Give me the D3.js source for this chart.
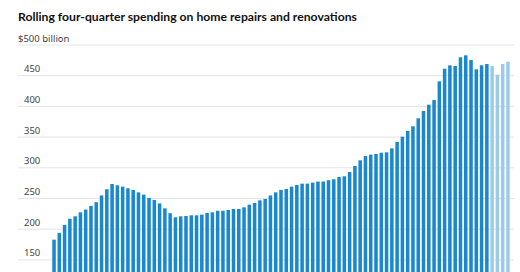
<!DOCTYPE html>
<html><head><meta charset="utf-8">
<script src="https://cdn.jsdelivr.net/npm/d3@7"></script>
<style>html,body{margin:0;padding:0;background:#fff;}svg{display:block;}</style>
</head><body>
<svg id="c" width="520" height="272"></svg>
<script>
const title = "Rolling four-quarter spending on home repairs and renovations";
const unitLabel = "billion";
const yTicks = [150, 200, 250, 300, 350, 400, 450, 500];
const values = [
 183, 194, 207, 217, 221, 227.5, 232, 238, 244, 255,
 265, 273.6, 271.5, 269.3, 266.6, 264, 260, 256.3, 251, 247.6,
 242, 234, 226, 219.4, 221, 221.5, 222.6, 222.6, 223.7, 226.4,
 227.5, 230, 230, 231.3, 233, 233, 235.6, 240, 242.7, 247,
 249.2, 255, 260, 264, 265.5, 269.3, 272, 274.2, 274.2, 275.9,
 277.6, 277.6, 279.8, 281.3, 285, 286.2, 293.2, 303, 312.2, 319.2,
 321.4, 322.5, 324.6, 325.2, 331.7, 342, 350.7, 360, 367.6, 380.6,
 392.5, 402.8, 410.4, 440.8, 461.4, 466.9, 465.8, 480, 483.2, 475.6,
 460.4, 467, 469, 465.8, 451.6, 469, 472.8
];
const projectedCount = 4;
const quarters = values.map((_, i) => "Q" + (i + 1));

const svg = d3.select("#c");
const x = d3.scaleBand().domain(quarters).range([52, 510]).paddingInner(0.33).paddingOuter(0.05);
const y = d3.scaleLinear().domain([0, 500]).range([352, 45]);

svg.append("text").attr("x", 18).attr("y", 21)
  .attr("font-family", "Lato, 'Noto Sans', sans-serif").attr("font-weight", 700)
  .attr("font-size", 12.2).attr("fill", "#111").text(title);

const g = svg.append("g");
g.selectAll("line.grid").data(yTicks).join("line")
  .attr("x1", 18).attr("x2", 514)
  .attr("y1", d => y(d)).attr("y2", d => y(d))
  .attr("stroke", "#e4e4e4").attr("stroke-width", 1);

g.selectAll("text.tick").data(yTicks).join("text")
  .attr("x", d => d === 500 ? 18 : 24)
  .attr("y", d => y(d) - 3.5)
  .attr("font-family", "'Noto Sans', sans-serif")
  .attr("font-size", 9.5).attr("fill", "#444")
  .text(d => d === 500 ? "$" + d + " " + unitLabel : d);

svg.append("g").selectAll("rect").data(values).join("rect")
  .attr("x", (d, i) => x(quarters[i]))
  .attr("width", x.bandwidth())
  .attr("y", d => y(d))
  .attr("height", d => y(0) - y(d))
  .attr("fill", (d, i) => i >= values.length - projectedCount ? "#9ecae9" : "#1a88cc");
</script>
</body></html>
